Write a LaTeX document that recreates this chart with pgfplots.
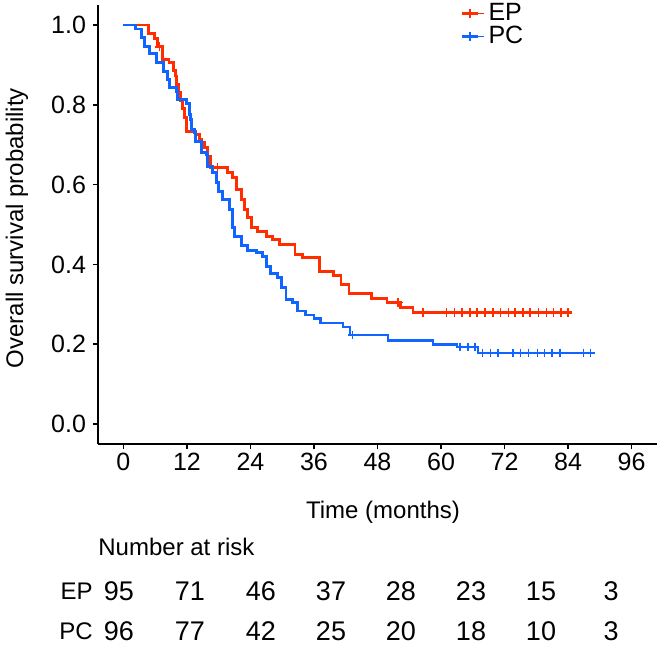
\documentclass[border=0pt]{standalone}
\usepackage{fontspec}
\setmainfont{Liberation Sans}
\usepackage{pgfplots}
\pgfplotsset{compat=1.18}
\definecolor{epred}{RGB}{255,45,0}
\definecolor{pcblue}{RGB}{16,100,255}

% survival steps: time (months), probability
\pgfplotstableread{
t s
0 1.000
4.7 0.978
5.9 0.967
6.4 0.945
7.4 0.913
8.6 0.905
9.5 0.885
9.8 0.872
10.1 0.850
10.4 0.830
10.8 0.810
11.2 0.790
11.5 0.768
11.9 0.733
13.6 0.725
14.4 0.712
14.8 0.705
15.3 0.693
15.9 0.670
16.5 0.643
19.7 0.630
20.6 0.618
21.4 0.588
22.3 0.563
22.9 0.538
23.5 0.518
24.2 0.493
25.4 0.483
27.1 0.470
28.2 0.463
29.5 0.450
32.4 0.425
33.9 0.418
37.1 0.383
39.7 0.373
41.1 0.350
42.6 0.328
46.9 0.315
49.8 0.305
52.4 0.293
54.7 0.280
84.8 0.280
}\epsteps

\pgfplotstableread{
t s
6.8 0.945
17.8 0.643
51.9 0.305
56.6 0.280
61.0 0.280
62.5 0.280
64.0 0.280
65.5 0.280
66.8 0.280
68.3 0.280
69.8 0.280
71.2 0.280
72.7 0.280
74.0 0.280
75.5 0.280
76.8 0.280
78.4 0.280
79.9 0.280
81.2 0.280
82.7 0.280
84.0 0.280
}\epcens

\pgfplotstableread{
t s
0 1.000
2.3 0.990
3.4 0.968
4.0 0.945
4.9 0.928
6.2 0.905
7.6 0.883
8.3 0.863
8.7 0.843
10.0 0.833
10.2 0.813
11.9 0.803
12.5 0.775
12.7 0.763
12.9 0.738
13.4 0.730
13.6 0.708
14.8 0.680
15.7 0.675
15.9 0.645
16.8 0.630
17.6 0.605
18.0 0.583
18.7 0.563
20.1 0.538
20.6 0.493
21.0 0.470
22.3 0.448
23.5 0.435
25.2 0.430
26.3 0.420
27.1 0.395
27.8 0.378
29.1 0.368
29.9 0.343
30.7 0.313
32.0 0.305
32.9 0.283
34.4 0.273
36.0 0.265
37.3 0.253
41.5 0.243
42.8 0.223
50.0 0.210
58.5 0.200
63.0 0.193
67.0 0.178
88.8 0.178
}\pcsteps

\pgfplotstableread{
t s
43.3 0.223
63.6 0.193
65.1 0.193
66.4 0.193
67.8 0.178
69.3 0.178
70.8 0.178
73.6 0.178
75.0 0.178
76.5 0.178
78.2 0.178
79.5 0.178
81.0 0.178
82.5 0.178
86.9 0.178
88.2 0.178
}\pccens

\begin{document}
\begin{tikzpicture}
\path[use as bounding box] (0pt,0pt) rectangle (332pt,332pt);
\begin{axis}[
  at={(49pt,110pt)}, anchor=south west,
  scale only axis,
  width=279.5pt, height=219.5pt,
  xmin=-4.8, xmax=100.8,
  ymin=-0.05, ymax=1.05,
  axis x line*=bottom, axis y line*=left,
  axis line style={line width=0.75pt, -},
  tick align=outside,
  major tick length=2.5pt,
  tick style={black, line width=0.75pt},
  xtick={0,12,...,96},
  ytick={0,0.2,...,1.0},
  /pgf/number format/assume math mode=true,
  yticklabel style={/pgf/number format/.cd, fixed, fixed zerofill, precision=1},
  ticklabel style={font=\fontsize{12.5}{14}\selectfont},
  xticklabel style={yshift=1.5pt},
  legend style={at={(0.6476,1.014)}, anchor=north west, draw=none, fill=none,
    font=\fontsize{12.5}{14}\selectfont, row sep=-2.5pt, inner sep=0pt},
  legend cell align=left,
]
\addplot[const plot, epred, line width=1.4pt, forget plot] table[x=t,y=s] {\epsteps};
\addplot[const plot, pcblue, line width=1.4pt, forget plot] table[x=t,y=s] {\pcsteps};
\addplot[only marks, mark=+, mark size=2.2pt, epred, line width=0.75pt,
  legend image code/.code={\draw[epred,line width=1.4pt] (0pt,0pt)--(8pt,0pt);
    \draw[epred,line width=0.75pt] (4pt,-2.2pt)--(4pt,2.2pt);
    \path (0pt,0pt)--(11pt,0pt);}]
  table[x=t,y=s] {\epcens};
\addlegendentry{EP}
\addplot[only marks, mark=+, mark size=2.2pt, pcblue, line width=0.75pt,
  legend image code/.code={\draw[pcblue,line width=1.4pt] (0pt,0pt)--(8pt,0pt);
    \draw[pcblue,line width=0.75pt] (4pt,-2.2pt)--(4pt,2.2pt);
    \path (0pt,0pt)--(11pt,0pt);}]
  table[x=t,y=s] {\pccens};
\addlegendentry{PC}
\end{axis}
% axis titles
\node[rotate=90, font=\fontsize{12}{14}\selectfont] at (8.5pt,218pt) {Overall survival probability};
\node[font=\fontsize{12}{14}\selectfont] at (191.5pt,76pt) {Time (months)};
% number at risk table
\node[anchor=west, inner sep=0pt, font=\fontsize{12}{14}\selectfont] at (49pt,58.5pt) {Number at risk};
\node[anchor=east, inner sep=0pt, font=\fontsize{12}{14}\selectfont] at (46.5pt,36.5pt) {EP};
\node[anchor=east, inner sep=0pt, font=\fontsize{12}{14}\selectfont] at (46.5pt,16.5pt) {PC};
\begin{scope}[font=\fontsize{13.5}{15}\selectfont]
\foreach \x/\a/\b in {59.5/95/96, 95/71/77, 130.5/46/42, 165.5/37/25,
                      200.5/28/20, 235.5/23/18, 270.5/15/10, 305.5/3/3} {
  \node at (\x pt,36.5pt) {\a};
  \node at (\x pt,16.5pt) {\b};
}
\end{scope}
\end{tikzpicture}
\end{document}
